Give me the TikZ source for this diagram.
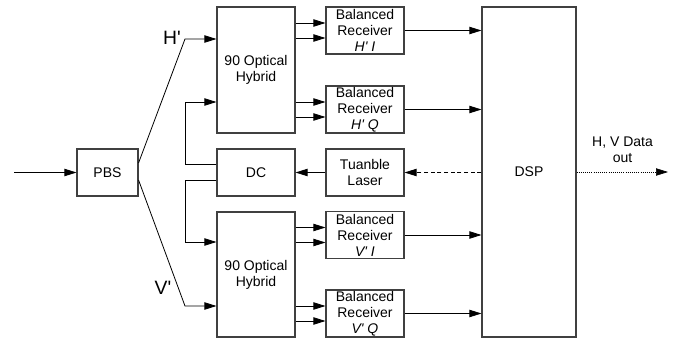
\documentclass[tikz,border=0pt]{standalone}
\usepackage{fontspec}
\setmainfont{Liberation Sans}
\usepackage{tikz}
\usetikzlibrary{arrows.meta,positioning,calc}
\newcommand{\sq}{\textquotesingle}

\begin{document}
\begin{tikzpicture}[x=0.75pt,y=-0.75pt,font=\fontsize{10.5}{12}\selectfont,
  b/.style={draw=black!75,line width=0.8pt,align=center,inner sep=0pt,minimum width=58.5pt,minimum height=35.25pt},
  a/.style={-{Triangle[length=9pt,width=5.5pt]},line width=0.6pt},
  lbl/.style={font=\fontsize{14.5}{16}\selectfont,inner sep=0pt}]
  \useasboundingbox (0,0) rectangle (678,339);
  % blocks
  \node[b,minimum width=45.75pt] (pbs) at (107.5,172.5) {PBS};
  \node[b,minimum height=94.5pt] (hybH) at (256,70) {90 Optical\\Hybrid};
  \node[b] (dc) at (256,172.5) {DC};
  \node[b,minimum height=93.75pt] (hybV) at (256,274.5) {90 Optical\\Hybrid};
  \node[b] (rxHI) at (365,30.5) {Balanced\\Receiver\\\textit{H\sq{} I}};
  \node[b] (rxHQ) at (365,109.5) {Balanced\\Receiver\\\textit{H\sq{} Q}};
  \node[b] (laser) at (365,172.5) {Tuanble\\Laser};
  \node[b] (rxVI) at (365,235) {Balanced\\Receiver\\\textit{V\sq{} I}};
  \node[b] (rxVQ) at (365,313.5) {Balanced\\Receiver\\\textit{V\sq{} Q}};
  \node[b,minimum width=70.5pt,minimum height=247.5pt] (dsp) at (529,172) {DSP};
  \node[lbl] (hl) at (172,38) {H\sq};
  \node[lbl] (vl) at (163,288) {V\sq};
  \node[align=center,inner sep=0pt] (outl) at (622.5,150) {H, V Data\\out};
  \coordinate (in) at (14,172.5);
  \coordinate (out) at (668,172);
  \coordinate (hb) at (185,39);
  \coordinate (vb) at (185,306);
  \coordinate (dcH) at (185,102);
  \coordinate (dcV) at (185,242);
  % polarisation split
  \draw[a] (in) -- (pbs);
  \draw[a] ($(pbs.east)+(0,-9.5)$) -- (hb) -- (hb-|hybH.west);
  \draw[a] ($(pbs.east)+(0,7.5)$) -- (vb) -- (vb-|hybV.west);
  % local oscillator
  \draw[a] ($(dc.west)+(0,-8.5)$) -| (dcH) -- (dcH-|hybH.west);
  \draw[a] ($(dc.west)+(0,7.5)$) -| (dcV) -- (dcV-|hybV.west);
  \draw[a] (laser) -- (dc);
  \draw[a,dash pattern=on 3pt off 2pt] (dsp.west|-laser) -- (laser);
  % hybrid outputs
  \foreach \h/\r in {hybH/rxHI,hybH/rxHQ,hybV/rxVI,hybV/rxVQ}
    \foreach \d in {-7.5,7.5} {
      \path ($(\r.west)+(0,\d)$) coordinate (t);
      \draw[a] (t-|\h.east) -- (t);
    }
  \foreach \r in {rxHI,rxHQ,rxVI,rxVQ}
    \draw[a] (\r.east) -- (\r.east-|dsp.west);
  \draw[a,densely dotted,line width=0.5pt] (dsp.east|-out) -- (out);
\end{tikzpicture}
\end{document}
